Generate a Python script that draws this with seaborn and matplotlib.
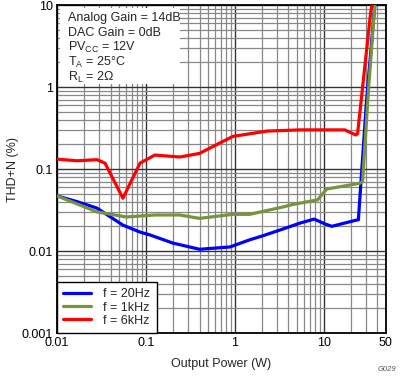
import matplotlib
matplotlib.use("Agg")
import matplotlib.pyplot as plt
import seaborn as sns
import pandas as pd
from matplotlib.patches import Rectangle
from matplotlib.ticker import LogLocator, NullFormatter, FixedLocator, FixedFormatter

sns.set_theme(style="white")
plt.rcParams['font.family'] = ['Liberation Sans', 'DejaVu Sans']
plt.rcParams['mathtext.default'] = 'regular'

# data
p_20hz = [0.01, 0.0168, 0.028, 0.055, 0.0857, 0.111, 0.20, 0.40, 0.88, 1.47, 2.05, 3.5, 5.4, 7.8, 10.2, 12.3, 22.5, 24.5, 30, 38]
thd_20hz = [0.047, 0.040, 0.0334, 0.0207, 0.0170, 0.0157, 0.0125, 0.0105, 0.0112, 0.0137, 0.0153, 0.0186, 0.0219, 0.0245, 0.0215, 0.0200, 0.0236, 0.024, 0.6, 12]

p_1khz = [0.01, 0.028, 0.06, 0.126, 0.24, 0.40, 0.95, 1.47, 3.5, 4.5, 8.5, 10.8, 25.3, 27.3, 32, 38]
thd_1khz = [0.047, 0.030, 0.026, 0.0275, 0.0275, 0.025, 0.028, 0.028, 0.0345, 0.037, 0.042, 0.057, 0.067, 0.07, 1.0, 12]

p_6khz = [0.01, 0.0168, 0.028, 0.0346, 0.055, 0.0857, 0.126, 0.24, 0.40, 0.95, 2.3, 5.4, 17.2, 22.9, 24, 33.7, 36]
thd_6khz = [0.132, 0.126, 0.13, 0.118, 0.044, 0.118, 0.148, 0.14, 0.155, 0.25, 0.29, 0.30, 0.30, 0.26, 0.27, 8.2, 12]

series = [("f = 20Hz", p_20hz, thd_20hz, "#0000ff"),
          ("f = 1kHz", p_1khz, thd_1khz, "#77933c"),
          ("f = 6kHz", p_6khz, thd_6khz, "#ff0000")]

info_lines = ["Analog Gain = 14dB", "DAC Gain = 0dB", "PV$_{CC}$ = 12V",
              "T$_{A}$ = 25°C", "R$_{L}$ = 2Ω"]

fig = plt.figure(figsize=(4.02, 3.77), dpi=100)
ax = fig.add_axes([0.142, 0.1167, 0.818, 0.87])

for name, x, y, c in series:
    df = pd.DataFrame({"P": x, "THD": y})
    sns.lineplot(data=df, x="P", y="THD", ax=ax, color=c, lw=2.3, label=name, sort=False, zorder=4)

ax.set_xscale("log")
ax.set_yscale("log")
ax.set_xlim(0.01, 50)
ax.set_ylim(0.001, 10)

ax.xaxis.set_major_locator(FixedLocator([0.01, 0.1, 1, 10, 50]))
ax.xaxis.set_major_formatter(FixedFormatter(["0.01", "0.1", "1", "10", "50"]))
ax.xaxis.set_minor_locator(LogLocator(base=10, subs=range(2, 10), numticks=20))
ax.xaxis.set_minor_formatter(NullFormatter())
ax.yaxis.set_major_locator(FixedLocator([0.001, 0.01, 0.1, 1, 10]))
ax.yaxis.set_major_formatter(FixedFormatter(["0.001", "0.01", "0.1", "1", "10"]))
ax.yaxis.set_minor_locator(LogLocator(base=10, subs=range(2, 10), numticks=20))
ax.yaxis.set_minor_formatter(NullFormatter())

ax.grid(True, which="major", color="#333333", lw=1.0)
ax.grid(True, which="minor", color="#888888", lw=0.9)
ax.tick_params(which="both", length=0, labelsize=9, colors="black", pad=3)
for s in ax.spines.values():
    s.set_color("black")
    s.set_linewidth(1.3)

ax.set_xlabel("Output Power (W)", fontsize=9, labelpad=6)
ax.set_ylabel("THD+N (%)", fontsize=9, labelpad=2)

# white box behind the conditions text
ax.add_patch(Rectangle((0.009, 0.759), 0.365, 0.232, transform=ax.transAxes,
                       facecolor="white", edgecolor="none", zorder=3))
for i, line in enumerate(info_lines):
    ax.text(0.032, 0.960 - i * 0.045, line, transform=ax.transAxes, ha="left",
            va="center", fontsize=9, zorder=5)

leg = ax.legend(loc="lower left", fontsize=9, frameon=True, fancybox=False,
                borderaxespad=0, handlelength=2.2, borderpad=0.5, labelspacing=0.1,
                handletextpad=1.0)
leg.get_frame().set_edgecolor("black")
leg.get_frame().set_linewidth(1.0)
leg.get_frame().set_alpha(1)

fig.text(0.985, 0.01, "G029", fontsize=5.5, style="italic", color="#555555", ha="right", va="bottom")

fig.savefig("out.png", dpi=100)
